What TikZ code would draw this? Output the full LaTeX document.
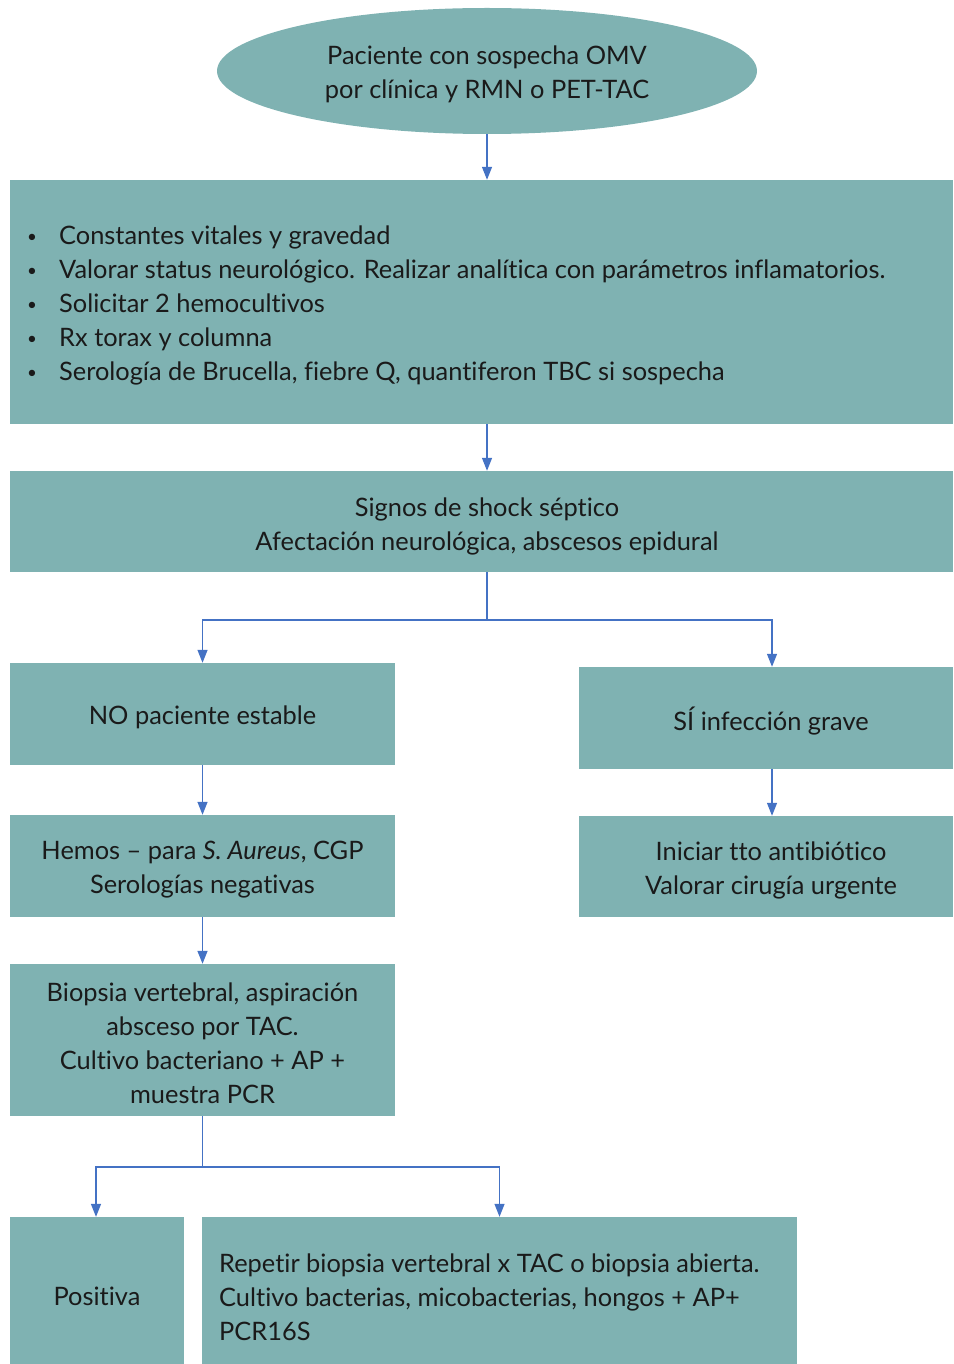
\documentclass[tikz,border=0pt]{standalone}
\usepackage{fontspec}
\setmainfont{Lato}[Ligatures={NoCommon}]
\usetikzlibrary{arrows.meta,shapes.geometric}
\definecolor{boxfill}{HTML}{7FB2B2}
\definecolor{arrowblue}{HTML}{4472C4}
\definecolor{txt}{HTML}{1A1A1A}
\newcommand\mybul{\makebox[33pt][l]{\hspace*{1pt}\raisebox{2pt}{\fontsize{17}{17}\selectfont•}}}
\begin{document}
\begin{tikzpicture}[x=1pt,y=-1pt,
  box/.style={fill=boxfill, draw=none, inner sep=0pt},
  lbl/.style={inner sep=0pt, text=txt, align=center,
    font=\fontsize{25.4}{34}\selectfont},
  arr/.style={draw=arrowblue, line width=1.3pt, -{Triangle[width=10pt,length=13pt]}},
  ln/.style={draw=arrowblue, line width=1.3pt}]
\useasboundingbox (0,0) rectangle (953,1364);
% shapes
\node[box, ellipse, minimum width=540pt, minimum height=126pt] (ell) at (487,71) {};
\node[box, minimum width=943pt, minimum height=244pt] (b2) at (481.5,302) {};
\node[box, minimum width=943pt, minimum height=101pt] (b3) at (481.5,521.5) {};
\node[box, minimum width=385pt, minimum height=102pt] (no) at (202.5,714) {};
\node[box, minimum width=374pt, minimum height=102pt] (si) at (766,718) {};
\node[box, minimum width=385pt, minimum height=102pt] (hem) at (202.5,866) {};
\node[box, minimum width=374pt, minimum height=101pt] (ini) at (766,866.5) {};
\node[box, minimum width=385pt, minimum height=152pt] (bio) at (202.5,1040) {};
\node[box, minimum width=174pt, minimum height=147pt] (pos) at (97,1290.5) {};
\node[box, minimum width=595pt, minimum height=147pt] (rep) at (499.5,1290.5) {};
% texts
\node[lbl] (ellt) at (487,74) {Paciente con sospecha OMV\\por clínica y RMN o PET-TAC};
\node[lbl, anchor=west, align=left] (list) at (26,305)
  {\mybul Constantes vitales y gravedad\\
   \mybul Valorar status neurológico. Realizar analítica con parámetros inflamatorios.\\
   \mybul Solicitar 2 hemocultivos\\
   \mybul Rx torax y columna\\
   \mybul Serología de Brucella, fiebre Q, quantiferon TBC si sospecha};
\node[lbl] (b3t) at (487,526) {Signos de shock séptico\\Afectación neurológica, abscesos epidural};
\node[lbl] (not) at (202.5,717) {NO paciente estable};
\node[lbl] (sit) at (771,721) {SÍ infección grave};
\node[lbl] (hemt) at (202.5,870) {Hemos – para \textit{S. Aureus}, CGP\\Serologías negativas};
\node[lbl] (init) at (771,870) {Iniciar tto antibiótico\\Valorar cirugía urgente};
\node[lbl] (biot) at (202.5,1043) {Biopsia vertebral, aspiración\\absceso por TAC.\\Cultivo bacteriano + AP +\\muestra PCR};
\node[lbl] (post) at (97,1296) {Positiva};
\node[lbl, anchor=west, align=left] (rept) at (219,1297)
  {Repetir biopsia vertebral x TAC o biopsia abierta.\\Cultivo bacterias, micobacterias, hongos + AP+\\PCR16S};
% connectors
\coordinate (j1) at (487,620);
\coordinate (j2) at (202.5,1167);
\draw[arr] (ell.south) -- (ell.south |- b2.north);
\draw[arr] (b2.south -| ell.south) -- (b3.north -| ell.south);
\draw[ln] (b3.south -| j1) -- (j1);
\draw[arr] (j1) -| (no.north);
\draw[arr] (j1) -| ([xshift=6pt]si.north);
\draw[arr] (no) -- (hem);
\draw[arr] ([xshift=6pt]si.south) -- ([xshift=6pt]ini.north);
\draw[arr] (hem) -- (bio);
\draw[ln] (bio.south) -- (j2);
\draw[arr] (j2) -| ([xshift=-1pt]pos.north);
\draw[arr] (j2) -| (rep.north);
\end{tikzpicture}
\end{document}
